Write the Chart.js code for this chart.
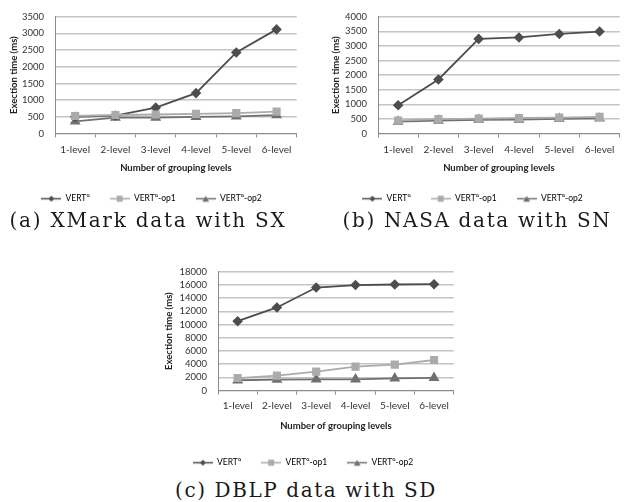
<!DOCTYPE html>
<html>
<head>
<meta charset="utf-8">
<script src="https://cdn.jsdelivr.net/npm/chart.js"></script>
<style>
  body{ margin:0; width:626px; height:502px; background:#fff; position:relative; overflow:hidden; }
  canvas{ position:absolute; }
  .cap{
    position:absolute; white-space:nowrap;
    font-family:"DejaVu Serif", serif; font-size:20px; line-height:24px; color:#1a1a1a;
  }
</style>
</head>
<body>
<canvas id="chartA" width="303" height="213" style="left:0;top:0"></canvas>
<canvas id="chartB" width="306" height="213" style="left:320px;top:0"></canvas>
<canvas id="chartC" width="314" height="222" style="left:146px;top:255px"></canvas>

<div class="cap" data-cx="148" data-cy="220" data-w="277">(a) XMark data with SX</div>
<div class="cap" data-cx="477" data-cy="220" data-w="269">(b) NASA data with SN</div>
<div class="cap" data-cx="306" data-cy="490" data-w="262">(c) DBLP data with SD</div>

<script>
// categories + series names
const levels = ['1-level', '2-level', '3-level', '4-level', '5-level', '6-level'];
const seriesNames = ['VERTᴳ', 'VERTᴳ-op1', 'VERTᴳ-op2'];

// (a) XMark / SX
const xmarkVert = [500, 535, 775, 1210, 2430, 3120];
const xmarkOp1  = [525, 555, 570, 590, 610, 655];
const xmarkOp2  = [365, 475, 475, 500, 515, 550];
const xmarkTicks = [0, 500, 1000, 1500, 2000, 2500, 3000, 3500];

// (b) NASA / SN
const nasaVert = [970, 1850, 3240, 3290, 3410, 3490];
const nasaOp1  = [445, 490, 510, 530, 545, 570];
const nasaOp2  = [405, 445, 470, 480, 505, 515];
const nasaTicks = [0, 500, 1000, 1500, 2000, 2500, 3000, 3500, 4000];

// (c) DBLP / SD
const dblpVert = [10500, 12580, 15600, 15970, 16060, 16110];
const dblpOp1  = [1890, 2250, 2850, 3620, 3920, 4620];
const dblpOp2  = [1550, 1650, 1700, 1700, 1840, 1920];
const dblpTicks = [0, 2000, 4000, 6000, 8000, 10000, 12000, 14000, 16000, 18000];

const looks = [
  {color: '#4d4d4d', point: 'rectRot', radius: 4},
  {color: '#ababab', point: 'rect', radius: 4.5},
  {color: '#707070', point: 'triangle', radius: 4.5}
];

// little line+marker images for the legend, excel style
function legendMark(look){
  const c = document.createElement('canvas');
  c.width = 20; c.height = 9;
  const g = c.getContext('2d');
  g.strokeStyle = look.color; g.fillStyle = look.color; g.lineWidth = 1.5;
  g.beginPath(); g.moveTo(0, 4.5); g.lineTo(20, 4.5); g.stroke();
  g.beginPath();
  if (look.point == 'rectRot'){
    g.moveTo(10, 1.5); g.lineTo(13, 4.5); g.lineTo(10, 7.5); g.lineTo(7, 4.5);
  } else if (look.point == 'rect'){
    g.rect(7, 1.5, 6, 6);
  } else {
    g.moveTo(10, 1.5); g.lineTo(13.3, 7.5); g.lineTo(6.7, 7.5);
  }
  g.closePath(); g.fill();
  return c;
}
const marks = looks.map(legendMark);

const font = 'Lato';

function makeChart(id, series, ticks, lay){
  const yMax = ticks[ticks.length - 1];
  const step = ticks[1] - ticks[0];
  return new Chart(document.getElementById(id), {
    type: 'line',
    data: {
      labels: levels,
      datasets: series.map((vals, i) => ({
        label: seriesNames[i],
        data: vals,
        borderColor: looks[i].color,
        backgroundColor: looks[i].color,
        pointBackgroundColor: looks[i].color,
        pointBorderColor: looks[i].color,
        pointStyle: looks[i].point,
        pointRadius: looks[i].radius,
        borderWidth: 1.8,
        tension: 0,
        order: [1, 0, 2][i]
      }))
    },
    options: {
      responsive: false,
      animation: false,
      devicePixelRatio: 1,
      layout: {padding: {top: lay.padTop, left: 0, right: lay.padRight, bottom: 0}},
      plugins: {
        tooltip: {enabled: false},
        legend: {
          position: 'bottom',
          labels: {
            usePointStyle: true,
            pointStyleWidth: 20,
            boxHeight: 8,
            padding: 20,
            color: '#333',
            font: {family: font, size: 8.5},
            generateLabels: (chart) => chart.data.datasets.map((ds, i) => ({
              text: ds.label, pointStyle: marks[i], fillStyle: looks[i].color,
              strokeStyle: looks[i].color, lineWidth: 0, hidden: false, datasetIndex: i
            }))
          }
        }
      },
      scales: {
        x: {
          offset: true,
          grid: {offset: true, drawOnChartArea: false, drawTicks: true, tickLength: 4, color: '#8c8c8c'},
          border: {color: '#8c8c8c', width: 1},
          ticks: {padding: lay.xTickPad, color: '#333', font: {family: font, size: 10}, maxRotation: 0, autoSkip: false},
          title: {display: true, text: 'Number of grouping levels', color: '#222',
                  font: {family: font, size: 9.5, weight: 'bold'}, padding: {top: 0, bottom: lay.xTitlePad}},
          afterFit: (s) => { s.height = lay.xHeight; }
        },
        y: {
          min: 0, max: yMax,
          afterBuildTicks: (s) => { s.ticks = ticks.map(v => ({value: v})); },
          grid: {color: '#c4c4c4', lineWidth: 1.5, drawTicks: false},
          border: {color: '#8c8c8c', width: 1},
          ticks: {autoSkip: false, padding: lay.yTickPad, color: '#333',
                  font: {family: font, size: lay.yFont}, callback: (v) => String(v)},
          title: {display: true, text: 'Exection time (ms)', color: '#222',
                  font: {family: font, size: 9.5, weight: 'bold'}, padding: {top: lay.yTitlePad, bottom: 0}},
          afterFit: (s) => { s.width = lay.yWidth; }
        }
      }
    }
  });
}

makeChart('chartA', [xmarkVert, xmarkOp1, xmarkOp2], xmarkTicks,
  {padTop: 10, padRight: 0, yWidth: 55, yTickPad: 11, yFont: 9.5, yTitlePad: 8, xHeight: 41, xTickPad: 6, xTitlePad: 1});
makeChart('chartB', [nasaVert, nasaOp1, nasaOp2], nasaTicks,
  {padTop: 10, padRight: 1, yWidth: 58, yTickPad: 11, yFont: 9.5, yTitlePad: 10, xHeight: 41, xTickPad: 6, xTitlePad: 1});
makeChart('chartC', [dblpVert, dblpOp1, dblpOp2], dblpTicks,
  {padTop: 12, padRight: 0, yWidth: 72, yTickPad: 11, yFont: 9.5, yTitlePad: 17, xHeight: 48, xTickPad: 5, xTitlePad: 7});

// captions: stretch to the width seen in the figure
document.querySelectorAll('.cap').forEach(el => {
  const want = Number(el.dataset.w);
  const n = el.textContent.length;
  el.style.letterSpacing = ((want - el.getBoundingClientRect().width) / n) + 'px';
  const r = el.getBoundingClientRect();
  el.style.left = (Number(el.dataset.cx) - r.width / 2) + 'px';
  el.style.top = (Number(el.dataset.cy) - r.height / 2) + 'px';
});
</script>
</body>
</html>
